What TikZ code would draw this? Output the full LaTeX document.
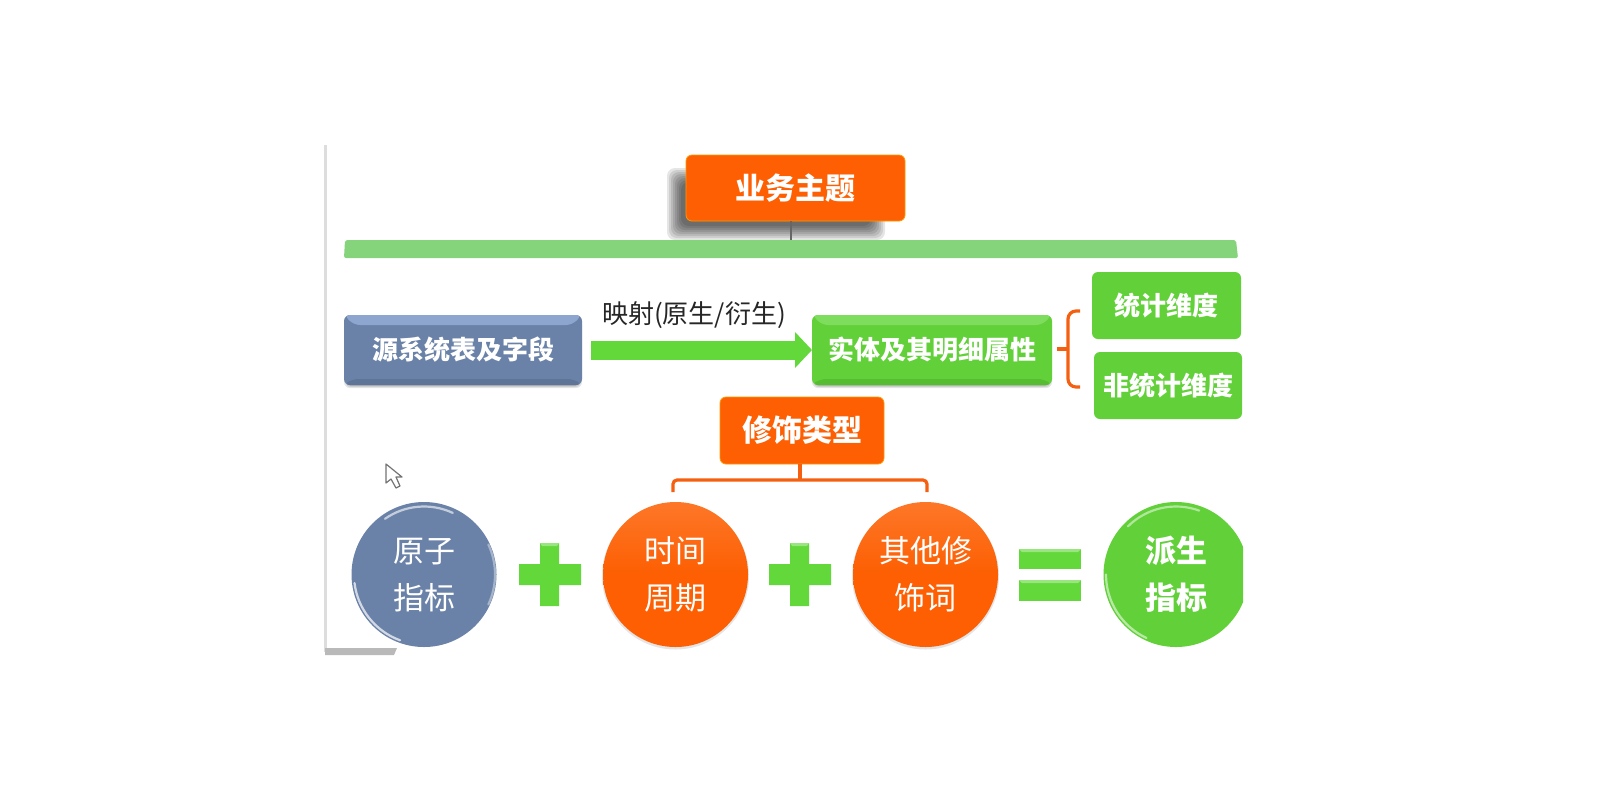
\documentclass[tikz,border=0pt]{standalone}
\usepackage{fontspec}
\setmainfont{Noto Sans CJK SC}
\usetikzlibrary{arrows.meta,calc,shadings}
\definecolor{org}{HTML}{FD5F02}
\definecolor{orgline}{HTML}{F4600F}
\definecolor{grn}{HTML}{61D039}
\definecolor{grnbar}{HTML}{85D47C}
\definecolor{grnarrow}{HTML}{62D83A}
\definecolor{slate}{HTML}{6B82A8}
\definecolor{slatetop}{HTML}{8CA6CF}
\definecolor{slatebot}{HTML}{5F7597}
\definecolor{grntop}{HTML}{7EDD5C}
\definecolor{grnbot}{HTML}{56BC32}
\definecolor{edgegray}{HTML}{DDDDDD}
\newcommand{\lowr}[1]{\raisebox{-1.2pt}[12pt][3pt]{#1}}
\tikzset{
  x=0.5pt,y=-0.5pt,
  txt26/.style={font=\fontsize{13}{15}\selectfont\bfseries,text=white},
  txt30/.style={font=\fontsize{15}{17}\selectfont\bfseries,text=white},
  circtxt/.style={font=\fontsize{15.5}{23.5}\selectfont,text=white,align=center},
  boxbase/.style={rectangle,rounded corners=3pt,inner sep=0pt,outer sep=0pt},
  orangebox/.style={boxbase,fill=org,draw=orange!80!yellow,line width=.4pt,txt30},
  greenbox/.style={boxbase,fill=grn,txt26},
  bevel/.style 2 args={boxbase,txt26,
    path picture={
      \coordinate (NW) at (path picture bounding box.north west);
      \coordinate (NE) at (path picture bounding box.north east);
      \coordinate (SW) at (path picture bounding box.south west);
      \coordinate (SE) at (path picture bounding box.south east);
      \fill[#1] (NW) -- (NE) -- ($(NE)+(-5pt,-5pt)$) -- ($(NW)+(5pt,-5pt)$) -- cycle;
      \fill[#2] (SW) -- (SE) -- ($(SE)+(-4pt,3pt)$) -- ($(SW)+(4pt,3pt)$) -- cycle;
    }},
  disc/.style={circle,inner sep=0pt,outer sep=0pt,minimum size=72.5pt,circtxt},
  link/.style={draw=orgline,line width=1.6pt,rounded corners=2pt},
  symb/.style={fill=grnarrow},
  symbtop/.style={fill=grnarrow!65!white},
  rimw/.style={white,line width=1.1pt,line cap=round},
}
\begin{document}
\begin{tikzpicture}
\useasboundingbox (0,0) rectangle (1600,800);
% page frame
\fill[edgegray] (324,145) rectangle (327,652);
\fill[gray!55] (325,648) -- (397,648) -- (394,655) -- (325,655) -- cycle;
% title shadow
\foreach \g in {0,2,4,6,8,10,12,14}{
  \fill[black,opacity=.1,rounded corners=4pt] (667+\g,168+\g) rectangle (885-\g,240-\g);
}
% bar
\fill[grnbar,rounded corners=1pt] (345,240) -- (1236,240) -- (1238,258) -- (344,258) -- cycle;
\coordinate (bar) at (791,240);
% title
\node[orangebox,minimum width=109.5pt,minimum height=33pt] (title) at (795.5,188) {业务主题};
\draw[gray!80!black,line width=.7pt] (title.south -| bar) -- (bar);
% row 2 shadows
\foreach \g in {0,1,2}{
  \fill[black,opacity=.1,rounded corners=3pt] (344+\g,319+\g) rectangle (582-\g,388-\g);
  \fill[black,opacity=.1,rounded corners=3pt] (812+\g,319+\g) rectangle (1052-\g,388-\g);
}
\node[bevel={slatetop}{slatebot},fill=slate,minimum width=119pt,minimum height=35pt] (src) at (463,350) {源系统表及字段};
\node[bevel={grntop}{grnbot},fill=grn,minimum width=120pt,minimum height=35pt] (ent) at (932,350) {实体及其明细属性};
\node[font=\fontsize{13}{15}\selectfont,text=black!85,inner sep=0pt] (map) at (694,315) {映射(原生/衍生)};
\draw[grnarrow,line width=9.5pt,-{Triangle[length=8.5pt,width=17.5pt]},shorten <=4.5pt] (src.east) -- (ent.west);
% dimensions
\node[greenbox,minimum width=74.5pt,minimum height=33.5pt] (stat) at (1166.5,305.5) {统计维度};
\node[greenbox,minimum width=74pt,minimum height=33.5pt] (nstat) at (1168,385.5) {非统计维度};
\coordinate (brtop) at (1080,311);
\coordinate (brbot) at (1080,387);
\coordinate (brtip) at (1057,349);
\draw[link,rounded corners=4pt] (brtop) -- (1068,311) -- (1068,387) -- (brbot);
\draw[link] (brtip) -- (1068,349);
% modifier
\node[orangebox,minimum width=82pt,minimum height=33.5pt] (mod) at (802,430.5) {修饰类型};
% circles
\fill[black,opacity=.1] (675.5,576) circle[radius=73.5];
\fill[black,opacity=.1] (925.5,576) circle[radius=73.5];
\node[disc,fill=slate] (atom) at (424,574.5) {\lowr{原子}\\\lowr{指标}};
\node[disc,top color=org!85!white,bottom color=org,middle color=org] (time) at (675.5,574.5) {\lowr{时间}\\\lowr{周期}};
\node[disc,top color=org!85!white,bottom color=org,middle color=org] (other) at (925.5,574.5) {\lowr{其他修}\\\lowr{饰词}};
\begin{scope}
\clip (1000,480) rectangle (1243,680);
\node[disc,fill=grn,font=\fontsize{15.5}{23.5}\selectfont\bfseries] (drv) at (1176,574.5) {\lowr{派生}\\\lowr{指标}};
\end{scope}
% glass rims
\begin{scope}[shift={(atom.center)},y=0.5pt]
\draw[rimw,opacity=.7] (187:70) arc[start angle=187,end angle=250,radius=70];
\draw[rimw,opacity=.6] (125:68) arc[start angle=125,end angle=65,radius=68];
\draw[rimw,opacity=.4] (-25:71) arc[start angle=-25,end angle=25,radius=71];
\end{scope}
\begin{scope}[shift={(drv.center)},y=0.5pt]
\draw[rimw,opacity=.55] (180:70) arc[start angle=180,end angle=245,radius=70];
\draw[rimw,opacity=.5] (135:68) arc[start angle=135,end angle=70,radius=68];
\end{scope}
% bracket
\coordinate (brl) at (673,492);
\coordinate (brr) at (927,492);
\coordinate (brm) at (800,480);
\draw[link] (brl) -- (673,480) -- (927,480) -- (brr);
\draw[link] (mod.south -| brm) -- (brm);
% plus 1
\fill[symb] (540,543) -- (559,543) -- (559,564) -- (581,564) -- (581,585) -- (559,585) -- (559,606) -- (540,606) -- (540,585) -- (519,585) -- (519,564) -- (540,564) -- cycle;
\fill[symbtop] (540,543) -- (559,543) -- (557,546) -- (542,546) -- cycle;
% plus 2
\fill[symb] (790,543) -- (809,543) -- (809,564) -- (831,564) -- (831,585) -- (809,585) -- (809,606) -- (790,606) -- (790,585) -- (769,585) -- (769,564) -- (790,564) -- cycle;
\fill[symbtop] (790,543) -- (809,543) -- (807,546) -- (792,546) -- cycle;
% equals
\fill[symb] (1019,549) rectangle (1081,569);
\fill[symb] (1019,580) rectangle (1081,601);
\fill[symbtop] (1019,549) -- (1081,549) -- (1078,552) -- (1022,552) -- cycle;
\fill[symbtop] (1019,580) -- (1081,580) -- (1078,583) -- (1022,583) -- cycle;
% cursor
\draw[fill=white,draw=gray!90!black,line width=.6pt,line join=round] (386,464) -- (386,483) -- (391,479) -- (396,488) -- (400,486) -- (396,477) -- (402,477) -- cycle;
\end{tikzpicture}
\end{document}
